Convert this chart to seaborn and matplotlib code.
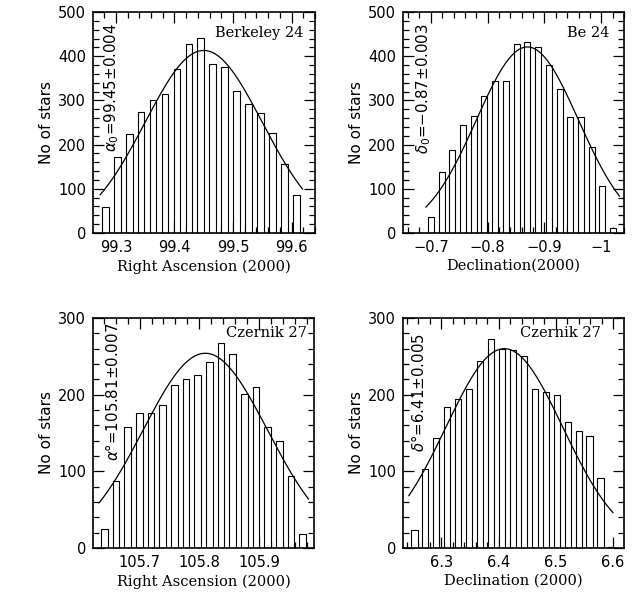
import numpy as np
import pandas as pd
import matplotlib
matplotlib.use("Agg")
import matplotlib.pyplot as plt
from matplotlib.ticker import MultipleLocator, FuncFormatter
import seaborn as sns

# ---- Berkeley 24: right ascension ----
be24_ra_bins = [99.282, 99.302, 99.323, 99.343, 99.364, 99.384, 99.404, 99.425,
                99.445, 99.466, 99.486, 99.506, 99.527, 99.547, 99.568, 99.588, 99.608]
be24_ra_counts = [58, 173, 223, 274, 302, 315, 370, 428, 441, 382, 376, 322, 292,
                  272, 226, 155, 85]
be24_ra_fit = dict(center=99.45, sigma=0.100, peak=413, lo=99.273, hi=99.619)

# ---- Berkeley 24: declination ----
be24_dec_bins = [-0.700, -0.719, -0.738, -0.757, -0.776, -0.795, -0.813, -0.832,
                 -0.851, -0.870, -0.889, -0.908, -0.927, -0.946, -0.965, -0.984,
                 -1.002, -1.021]
be24_dec_counts = [36, 138, 188, 244, 265, 311, 345, 345, 428, 433, 420, 379, 326,
                   262, 262, 194, 107, 11]
be24_dec_fit = dict(center=-0.87, sigma=0.090, peak=421, lo=-1.032, hi=-0.691)

# ---- Czernik 27: right ascension ----
cz27_ra_bins = [105.641, 105.661, 105.680, 105.700, 105.719, 105.739, 105.758,
                105.778, 105.797, 105.817, 105.836, 105.856, 105.875, 105.895,
                105.914, 105.934, 105.953, 105.973]
cz27_ra_counts = [25, 88, 158, 176, 176, 187, 213, 221, 226, 243, 267, 253, 201,
                  210, 158, 139, 94, 18]
cz27_ra_fit = dict(center=105.81, sigma=0.104, peak=254, lo=105.632, hi=105.983)

# ---- Czernik 27: declination ----
cz27_dec_bins = [6.253, 6.272, 6.291, 6.310, 6.329, 6.349, 6.368, 6.387, 6.406,
                 6.425, 6.444, 6.463, 6.482, 6.501, 6.520, 6.540, 6.559, 6.578, 6.597]
cz27_dec_counts = [24, 103, 143, 184, 195, 207, 244, 273, 259, 258, 251, 207, 203,
                   200, 165, 152, 146, 91, 1]
cz27_dec_fit = dict(center=6.41, sigma=0.102, peak=260, lo=6.243, hi=6.600)

sns.set_style("ticks")
plt.rcParams["font.family"] = ["DejaVu Sans"]
plt.rcParams["mathtext.fontset"] = "dejavusans"
for key in ("text.color", "axes.labelcolor", "xtick.color", "ytick.color",
            "axes.edgecolor"):
    plt.rcParams[key] = "black"

W, H = 636, 595
fig = plt.figure(figsize=(W / 100, H / 100), dpi=100)


def px_axes(left, top, right, bottom):
    return fig.add_axes([left / W, 1 - bottom / H, (right - left) / W, (bottom - top) / H])


def fmt(v, _pos):
    s = "%g" % round(v, 6)
    return s.replace("-", "\u2212")


def panel(ax, bins, counts, fit, xlim, ymax, xlabel, cluster, cluster_xy,
          note, note_xy):
    bins = np.asarray(bins, float)
    step = (bins[-1] - bins[0]) / (len(bins) - 1)
    lo_edge = min(bins[0], bins[-1]) - abs(step) / 2
    hi_edge = max(bins[0], bins[-1]) + abs(step) / 2
    df = pd.DataFrame({"pos": bins, "n": counts})
    sns.histplot(data=df, x="pos", weights="n", binwidth=abs(step),
                 binrange=(lo_edge, hi_edge), shrink=0.56, color="white",
                 edgecolor="black", linewidth=0.8, alpha=1, ax=ax)

    xs = np.linspace(fit["lo"], fit["hi"], 300)
    ys = fit["peak"] * np.exp(-0.5 * ((xs - fit["center"]) / fit["sigma"]) ** 2)
    sns.lineplot(x=xs, y=ys, color="black", linewidth=0.9, ax=ax)

    ax.set_xlim(*xlim)
    ax.set_ylim(0, ymax)
    ax.xaxis.set_major_locator(MultipleLocator(0.1))
    ax.xaxis.set_minor_locator(MultipleLocator(0.02))
    ax.yaxis.set_major_locator(MultipleLocator(100))
    ax.yaxis.set_minor_locator(MultipleLocator(20))
    ax.xaxis.set_major_formatter(FuncFormatter(fmt))
    ax.yaxis.set_major_formatter(FuncFormatter(fmt))
    ax.tick_params(which="both", direction="in", top=True, right=True,
                   width=0.9, labelsize=10.5, colors="black")
    ax.tick_params(which="major", length=8, pad=5)
    ax.tick_params(which="minor", length=4)
    for s in ax.spines.values():
        s.set_linewidth(1.2)
        s.set_color("black")

    ax.set_xlabel(xlabel, family="DejaVu Serif", fontsize=10.5, labelpad=3,
                  color="black")
    ax.set_ylabel("No of stars", fontsize=11, labelpad=3, color="black")

    fx, fy = cluster_xy
    fig.text(fx / W, 1 - fy / H, cluster, family="DejaVu Serif", fontsize=10.5,
             ha="right", va="center", color="black")
    nx, ny = note_xy
    fig.text(nx / W, 1 - ny / H, note, fontsize=10.8, rotation=90,
             ha="center", va="top", color="black")


ax1 = px_axes(93, 12, 315, 233)
panel(ax1, be24_ra_bins, be24_ra_counts, be24_ra_fit, (99.261, 99.640), 500,
      "Right Ascension (2000)", "Berkeley 24", (303, 33),
      r"$\alpha_0$=99.45$\pm$0.004", (112, 23))

ax2 = px_axes(403, 12, 624, 233)
panel(ax2, be24_dec_bins, be24_dec_counts, be24_dec_fit, (-0.651, -1.040), 500,
      "Declination(2000)", "Be 24", (609, 33),
      r"$\delta_0$=$-$0.87$\pm$0.003", (424, 23))

ax3 = px_axes(93, 318, 314, 548)
panel(ax3, cz27_ra_bins, cz27_ra_counts, cz27_ra_fit, (105.622, 105.992), 300,
      "Right Ascension (2000)", "Czernik 27", (307, 333),
      r"$\alpha$°=105.81$\pm$0.007", (113, 323))

ax4 = px_axes(403, 318, 624, 548)
panel(ax4, cz27_dec_bins, cz27_dec_counts, cz27_dec_fit, (6.233, 6.619), 300,
      "Declination (2000)", "Czernik 27", (601, 333),
      r"$\delta$°=6.41$\pm$0.005", (418, 333))

fig.savefig("out.png", dpi=100, facecolor="white")
